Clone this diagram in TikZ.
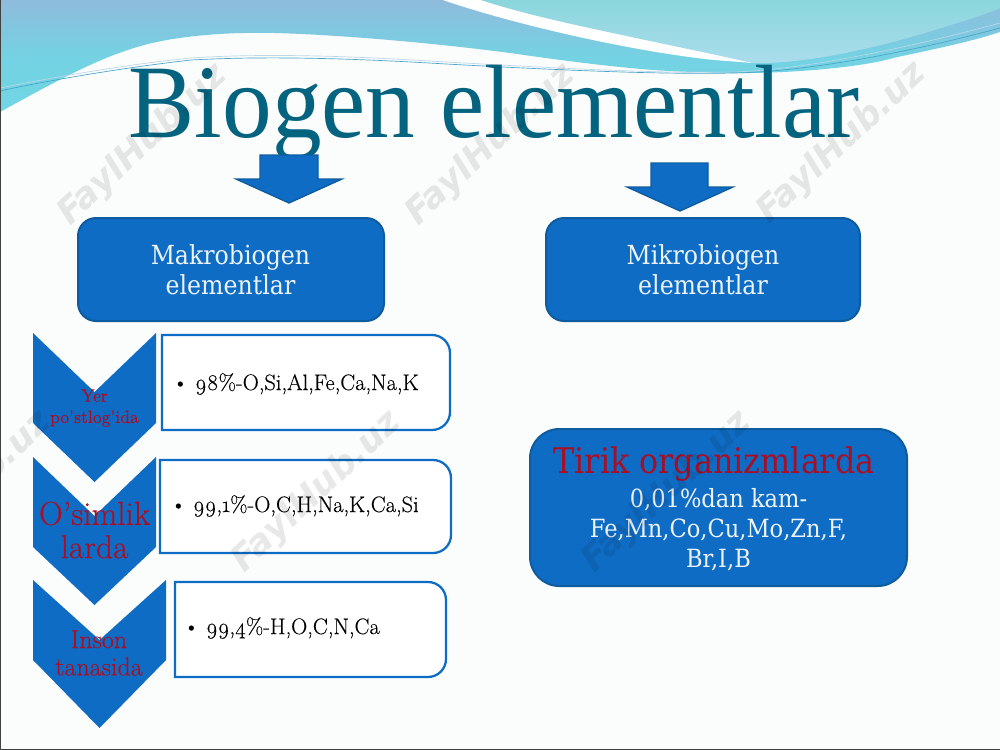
\documentclass[tikz,border=0pt]{standalone}
\usepackage{fontspec}
\setmainfont{Liberation Serif}
\newfontfamily\boxfont[FakeStretch=0.9]{DejaVu Serif}
\newfontfamily\listfont[Numbers=OldStyle,FakeBold=0.25]{Latin Modern Roman}
\newfontfamily\markfont[BoldFont={DejaVu Sans Bold},ItalicFont={DejaVu Sans Oblique},BoldItalicFont={DejaVu Sans Bold Oblique}]{DejaVu Sans}
\definecolor{bgc}{HTML}{FBFCFC}
\definecolor{blueA}{HTML}{0F6CC4}
\definecolor{blueL}{HTML}{0E5C9E}
\definecolor{titleC}{HTML}{04637F}
\definecolor{redC}{HTML}{A80F25}
\definecolor{waveA}{HTML}{8FBBDB}
\definecolor{waveB}{HTML}{6FD6E4}
\definecolor{waveC}{HTML}{8BD6DC}
\definecolor{waveD}{HTML}{ABDDEC}
\tikzset{
 x=0.75pt,y=-0.75pt,
 bluebox/.style={fill=blueA,draw=blueL,line width=1.5pt},
 chevron/.style={fill=blueA},
 arrowshape/.style={fill=blueA,draw=blueL,line width=1pt},
 listbox/.style={fill=white,draw=blueA,line width=1.7pt},
 boxtext/.style={font=\boxfont\fontsize{19.7}{22.5}\selectfont,text=white!92!blueA,align=center,inner sep=0},
 chevtext/.style={text=redC,align=center,inner sep=0},
 listtext/.style={font=\listfont\fontsize{16.8}{20}\selectfont,text=black,anchor=west,inner sep=0},
 wm/.style={font=\markfont\bfseries\itshape\fontsize{26.5}{30}\selectfont,text=black,opacity=0.09,rotate=43,inner sep=0},
}
\begin{document}
\begin{tikzpicture}
\useasboundingbox (0,0) rectangle (1000,750);
\fill[bgc] (0,0) rectangle (1000,750);
% top waves
\shade[top color=waveA,bottom color=waveB,middle color=waveB!85!waveA]
 (0,0) -- (0,112) .. controls (40,90) and (90,62) .. (128,50)
 .. controls (170,35) and (230,32) .. (274,33)
 .. controls (350,35) and (450,45) .. (510,53)
 .. controls (580,63) and (650,72) .. (702,72)
 .. controls (770,76) and (860,68) .. (893,58)
 .. controls (930,50) and (970,42) .. (1000,32) -- (1000,0) -- cycle;
\fill[white] (443,0) .. controls (500,20) and (620,50) .. (714,60)
 -- (753,63) -- (481,0) -- cycle;
\shade[top color=waveC,bottom color=waveD]
 (481,0) .. controls (540,20) and (640,38) .. (753,63)
 .. controls (800,64) and (860,52) .. (925,33)
 .. controls (960,22) and (985,15) .. (1000,8) -- (1000,0) -- cycle;
\draw[white!40!waveA,line width=0.5pt] (0,88) .. controls (40,80) and (120,65) .. (191,58)
 .. controls (280,52) and (380,58) .. (446,62)
 .. controls (520,66) and (650,74) .. (733,72)
 .. controls (800,70) and (900,50) .. (1000,23);
\draw[waveB!60!blueL,line width=0.5pt] (0,91) .. controls (40,82) and (120,68) .. (191,60)
 .. controls (280,55) and (380,60) .. (446,64)
 .. controls (520,68) and (650,75) .. (733,73)
 .. controls (800,72) and (900,55) .. (1000,28);
\fill[black!75] (0,0) rectangle (1,750);
\fill[black!75] (0,749) rectangle (1000,750);
% title
\node[font=\fontsize{74.5}{80}\selectfont,text=titleC,inner sep=0,anchor=base,yscale=1.05] (title) at (494,137) {Biogen elementlar};
% arrows
\draw[arrowshape] (260,155) -- (318,155) -- (318,179) -- (342,179) -- (289,203) -- (236,179) -- (260,179) -- cycle;
\draw[arrowshape] (651,163) -- (708,163) -- (708,187) -- (733,187) -- (680,211) -- (627,187) -- (651,187) -- cycle;
% top boxes
\draw[bluebox,rounded corners=13.5pt] (78,218) rectangle (384,321);
\node[boxtext] (makro) at (230.5,270) {Makrobiogen\\elementlar};
\draw[bluebox,rounded corners=13.5pt] (546,218) rectangle (860,321);
\node[boxtext] (mikro) at (703,270) {Mikrobiogen\\elementlar};
% chevrons
\fill[chevron] (33,333) -- (94.5,392) -- (156,333) -- (156,423) -- (94.5,482) -- (33,423) -- cycle;
\fill[chevron] (33,457) -- (94.5,516) -- (156,457) -- (156,547) -- (94.5,605) -- (33,547) -- cycle;
\fill[chevron] (33,580) -- (99.5,640) -- (166,580) -- (166,660) -- (99.5,728) -- (33,660) -- cycle;
\node[chevtext,font=\listfont\fontsize{13.5}{16}\selectfont] (c1) at (94.5,408) {Yer\\po'stlog'ida};
\node[chevtext,font=\listfont\fontsize{25}{25}\selectfont] (c2) at (94.5,530) {O’simlik\\larda};
\node[chevtext,font=\listfont\fontsize{19.5}{20.5}\selectfont] (c3) at (99,653) {Inson\\tanasida};
% list boxes
\draw[listbox] (162,335) [rounded corners=13.5pt] -- (450,335) -- (450,430) [sharp corners] -- (162,430) -- cycle;
\draw[listbox] (160,460) [rounded corners=13.5pt] -- (451,460) -- (451,553) [sharp corners] -- (160,553) -- cycle;
\draw[listbox] (175,582) [rounded corners=13.5pt] -- (446,582) -- (446,677) [sharp corners] -- (175,677) -- cycle;
\node[listtext] (l1) at (172,384) {•\hspace{5pt}98\%-O,Si,Al,Fe,Ca,Na,K};
\node[listtext] (l2) at (170,506) {•\hspace{5pt}99,1\%-O,C,H,Na,K,Ca,Si};
\node[listtext] (l3) at (183,628) {•\hspace{5pt}99,4\%-H,O,C,N,Ca};
% living box
\draw[bluebox,rounded corners=22pt] (530,429) rectangle (907,586);
\node[font=\boxfont\fontsize{26.5}{28}\selectfont,text=redC,inner sep=0] (tirik) at (714,464) {Tirik organizmlarda};
\node[boxtext,font=\boxfont\fontsize{18.8}{22.5}\selectfont] (micro) at (718.5,530) {0,01\%dan kam-\\Fe,Mn,Co,Cu,Mo,Zn,F,\\Br,I,B};
% watermarks
\node[wm] (w1) at (143,145) {FaylHub.uz};
\node[wm] (w2) at (491,145) {FaylHub.uz};
\node[wm] (w3) at (842,143) {FaylHub.uz};
\node[wm] (w4) at (317,492) {FaylHub.uz};
\node[wm] (w5) at (667,492) {FaylHub.uz};
\begin{scope}
\clip (0,0) rectangle (1000,750);
\node[wm] (w6) at (-33,492) {FaylHub.uz};
\end{scope}
\end{tikzpicture}
\end{document}
